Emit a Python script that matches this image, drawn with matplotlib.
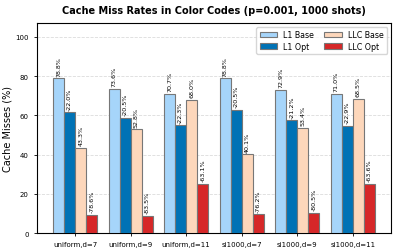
import matplotlib
matplotlib.use("Agg")
import matplotlib.pyplot as plt
import numpy as np

categories = ["uniform,d=7", "uniform,d=9", "uniform,d=11", "si1000,d=7", "si1000,d=9", "si1000,d=11"]
l1_base = [78.8, 73.6, 70.7, 78.8, 72.9, 71.0]
l1_opt = [61.5, 58.5, 54.9, 62.6, 57.4, 54.7]
llc_base = [43.3, 52.8, 68.0, 40.1, 53.4, 68.5]
llc_opt = [9.3, 8.7, 25.1, 9.5, 10.4, 24.9]
l1_change = ["-22.0%", "-20.5%", "-22.3%", "-20.5%", "-21.2%", "-22.9%"]
llc_change = ["-78.6%", "-83.5%", "-63.1%", "-76.2%", "-80.5%", "-63.6%"]

fig = plt.figure(figsize=(3.97, 2.53), dpi=100)
ax = fig.add_axes([0.093, 0.075, 0.892, 0.830])

x = np.arange(len(categories))
w = 0.2
ec = "#777777"
b1 = ax.bar(x - 1.5 * w, l1_base, w, color="#a6d5fa", edgecolor=ec, linewidth=0.8, label="L1 Base", zorder=3)
b2 = ax.bar(x - 0.5 * w, l1_opt, w, color="#0072b5", edgecolor=ec, linewidth=0.8, label="L1 Opt", zorder=3)
b3 = ax.bar(x + 0.5 * w, llc_base, w, color="#fdd7bb", edgecolor=ec, linewidth=0.8, label="LLC Base", zorder=3)
b4 = ax.bar(x + 1.5 * w, llc_opt, w, color="#d62728", edgecolor=ec, linewidth=0.8, label="LLC Opt", zorder=3)

fs = 4.6
for bars, labels in [(b1, [f"{v:.1f}%" for v in l1_base]), (b2, l1_change),
                     (b3, [f"{v:.1f}%" for v in llc_base]), (b4, llc_change)]:
    for rect, lab in zip(bars, labels):
        ax.annotate(lab, (rect.get_x() + rect.get_width() / 2, rect.get_height()),
                    xytext=(0, 2), textcoords="offset points", ha="center", va="bottom",
                    rotation=90, fontsize=fs)

ax.set_ylim(0, 107)
ax.set_yticks([0, 20, 40, 60, 80, 100])
ax.set_xticks(x)
ax.set_xticklabels(categories, fontsize=5)
ax.tick_params(axis="y", labelsize=5)
ax.tick_params(length=2.5, width=0.6)
ax.set_ylabel("Cache Misses (%)", fontsize=7, labelpad=2)
ax.set_title("Cache Miss Rates in Color Codes (p=0.001, 1000 shots)", fontsize=7, fontweight="bold", pad=7)
ax.yaxis.grid(True, linestyle="--", color="#cccccc", alpha=0.7, linewidth=0.6, zorder=0)
ax.set_axisbelow(True)
ax.legend(ncol=2, fontsize=5.7, loc="upper right", handlelength=2.2, columnspacing=1.3,
          borderpad=0.4, labelspacing=0.3)

fig.savefig("out.png", dpi=100)
